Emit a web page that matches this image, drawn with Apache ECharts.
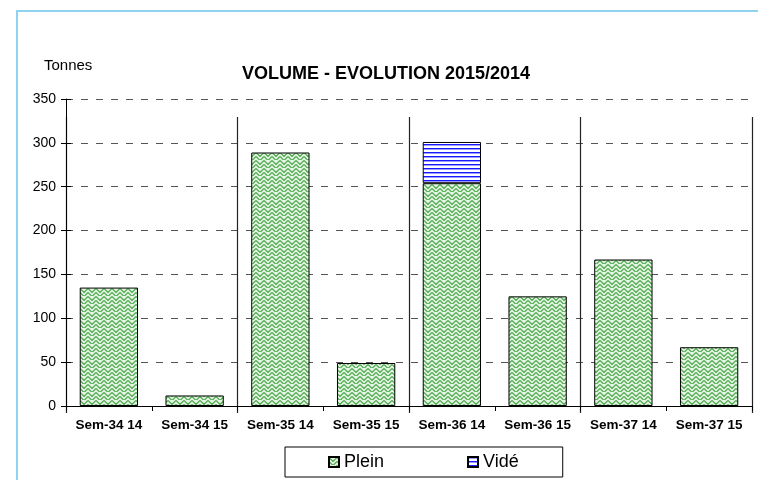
<!DOCTYPE html>
<html>
<head>
<meta charset="utf-8">
<script src="https://cdn.jsdelivr.net/npm/echarts@6/dist/echarts.min.js"></script>
<style>
  html, body { margin: 0; padding: 0; background: #fff; }
  #chart { width: 758px; height: 480px; }
</style>
</head>
<body>
<div id="chart"></div>
<script>
// data
var categories = ['Sem-34 14', 'Sem-34 15', 'Sem-35 14', 'Sem-35 15', 'Sem-36 14', 'Sem-36 15', 'Sem-37 14', 'Sem-37 15'];
var pleinValues = [135, 12, 289, 49, 254, 125, 167, 67];
var videValues = ['-', '-', '-', '-', 47, '-', '-', '-'];
var weekGroups = ['Sem-34', 'Sem-35', 'Sem-36', 'Sem-37'];
var yMin = 0, yMax = 350, yStep = 50;

var FONT = 'Liberation Sans, Arial, sans-serif';

// green weave fill
function weavePattern() {
    var c = document.createElement('canvas');
    c.width = 8; c.height = 8;
    var g = c.getContext('2d');
    g.fillStyle = '#e2f3e2';
    g.fillRect(0, 0, 8, 8);
    g.strokeStyle = '#45a545';
    g.lineWidth = 1.1;
    g.beginPath();
    g.moveTo(0, 0.5); g.lineTo(4, 4.5); g.lineTo(8, 0.5);
    g.moveTo(0, 4.5); g.lineTo(4, 8.5); g.lineTo(8, 4.5);
    g.stroke();
    return c;
}
// blue horizontal stripes
function stripePattern() {
    var c = document.createElement('canvas');
    c.width = 4; c.height = 4;
    var g = c.getContext('2d');
    g.fillStyle = '#ffffff';
    g.fillRect(0, 0, 4, 4);
    g.fillStyle = '#1a1aff';
    g.fillRect(0, 0, 4, 1);
    g.fillStyle = '#9a9aff';
    g.fillRect(0, 1, 4, 1);
    return c;
}

var chart = echarts.init(document.getElementById('chart'));

var option = {
    animation: false,
    backgroundColor: '#fff',
    textStyle: { fontFamily: FONT },
    title: [{
        text: 'VOLUME - EVOLUTION 2015/2014',
        left: 381, top: 60, textAlign: 'center',
        textStyle: { fontFamily: FONT, fontSize: 18, fontWeight: 'bold', color: '#000' }
    }, {
        text: 'Tonnes',
        left: 39, top: 53,
        textStyle: { fontFamily: FONT, fontSize: 15, fontWeight: 'normal', color: '#000' }
    }],
    legend: {
        left: 285, top: 447,
        padding: [6, 44, 6, 43],
        itemGap: 83,
        itemWidth: 10, itemHeight: 10,
        borderColor: '#000', borderWidth: 1,
        textStyle: { fontFamily: FONT, fontSize: 18, color: '#000' },
        data: [{ name: 'Plein', icon: 'rect' }, { name: 'Vidé', icon: 'rect' }]
    },
    graphic: [
        { type: 'line', shape: { x1: 17, y1: 11, x2: 758, y2: 11 }, style: { stroke: '#8fd3f0', lineWidth: 2 } },
        { type: 'line', shape: { x1: 17, y1: 10, x2: 17, y2: 480 }, style: { stroke: '#8fd3f0', lineWidth: 2 } }
    ],
    grid: [
        { left: 66, right: 6, top: 99, bottom: 74 },
        { left: 66, right: 6, top: 117, bottom: 67 }
    ],
    xAxis: [{
        type: 'category',
        gridIndex: 0,
        data: categories,
        axisLine: { lineStyle: { color: '#000', width: 1 } },
        axisTick: { show: true, length: 5, lineStyle: { color: '#000' } },
        axisLabel: { margin: 12, fontFamily: FONT, fontSize: 13.5, fontWeight: 'bold', color: '#000', interval: 0 },
        splitLine: { show: false }
    }, {
        type: 'category',
        gridIndex: 1,
        data: weekGroups,
        axisLine: { show: false },
        axisTick: { show: false },
        axisLabel: { show: false },
        splitLine: { show: true, interval: 0, lineStyle: { color: '#222', width: 1.2 } }
    }],
    yAxis: [{
        type: 'value',
        gridIndex: 0,
        min: yMin, max: yMax, interval: yStep,
        axisLine: { show: true, lineStyle: { color: '#000', width: 1 } },
        axisTick: { show: true, length: 5, lineStyle: { color: '#000' } },
        axisLabel: { margin: 10, fontFamily: FONT, fontSize: 14, color: '#000' },
        splitLine: { show: true, lineStyle: { color: '#555', type: [7, 8], width: 1 } }
    }, {
        type: 'value',
        gridIndex: 0,
        position: 'left',
        min: yMin, max: yMax, interval: yStep,
        axisLine: { show: false },
        axisTick: { show: true, inside: true, length: 5, lineStyle: { color: '#000' } },
        axisLabel: { show: false },
        splitLine: { show: false }
    }, {
        type: 'value',
        gridIndex: 1,
        show: false
    }],
    series: [{
        name: 'Plein',
        type: 'bar',
        stack: 'vol',
        xAxisIndex: 0, yAxisIndex: 0,
        barCategoryGap: '32%',
        data: pleinValues,
        itemStyle: { color: { image: weavePattern(), repeat: 'repeat' }, borderColor: '#000', borderWidth: 1 }
    }, {
        name: 'Vidé',
        type: 'bar',
        stack: 'vol',
        xAxisIndex: 0, yAxisIndex: 0,
        barCategoryGap: '32%',
        data: videValues,
        itemStyle: { color: { image: stripePattern(), repeat: 'repeat' }, borderColor: '#000', borderWidth: 1 }
    }]
};

chart.setOption(option);
</script>
</body>
</html>
